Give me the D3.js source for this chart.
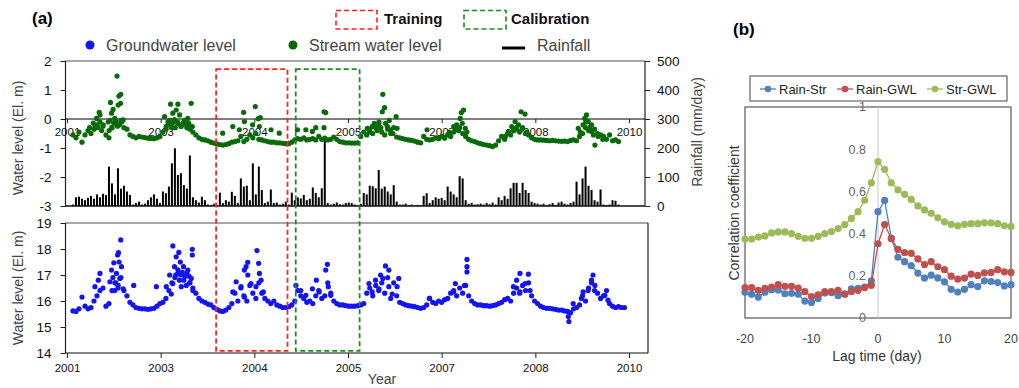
<!DOCTYPE html>
<html>
<head>
<meta charset="utf-8">
<script src="https://cdn.jsdelivr.net/npm/d3@7"></script>
<style>
  body { margin: 0; background: #fff; }
  svg { display: block; font-family: "Liberation Sans", Arial, sans-serif; }
</style>
</head>
<body>
<svg id="chart" width="1019" height="388"></svg>
<script>
// ---------- panel (a): daily record, sampled every 16 days ----------
const yearLabels = ["2001", "2003", "2004", "2005", "2007", "2008", "2010"];
const tickDays = [0, 500, 1000, 1500, 2000, 2500, 3000];
const sampleStart = 32;   // day of first sample
const sampleStep = 16;    // days between samples

// stream water level (El. m)
const streamLevel = [
  -0.55,-0.65,-0.45,-0.8,-0.55,-0.4,-0.5,-0.35,-0.2,-0.1,-0.25,-0.55,-0.65,-0.3,-0.15,-0.2,-0.05,-0.3,-0.35,-0.55,
  -0.6,-0.65,-0.6,-0.62,-0.64,-0.66,-0.67,-0.68,-0.65,-0.6,-0.45,-0.35,-0.2,-0.3,-0.1,-0.15,-0.25,-0.1,-0.3,-0.35,
  -0.45,-0.55,-0.65,-0.7,-0.72,-0.75,-0.8,-0.83,-0.86,-0.88,-0.9,-0.88,-0.85,-0.8,-0.78,-0.75,-0.6,-0.78,-0.7,-0.55,
  -0.65,-0.5,-0.7,-0.72,-0.75,-0.78,-0.8,-0.8,-0.82,-0.82,-0.84,-0.85,-0.85,-0.8,-0.72,-0.68,-0.7,-0.65,-0.72,-0.7,
  -0.68,-0.72,-0.6,-0.7,-0.66,-0.72,-0.7,-0.62,-0.7,-0.78,-0.8,-0.82,-0.82,-0.83,-0.83,-0.82,-0.6,-0.45,-0.55,-0.35,
  -0.5,-0.3,-0.2,-0.45,-0.55,-0.35,-0.5,-0.3,-0.62,-0.65,-0.68,-0.7,-0.72,-0.74,-0.76,-0.8,-0.82,-0.6,-0.7,-0.72,
  -0.7,-0.65,-0.68,-0.6,-0.66,-0.55,-0.6,-0.45,-0.35,-0.3,-0.5,-0.6,-0.7,-0.75,-0.78,-0.82,-0.85,-0.88,-0.9,-0.92,
  -0.95,-0.9,-0.75,-0.6,-0.7,-0.5,-0.55,-0.4,-0.35,-0.45,-0.3,-0.5,-0.55,-0.65,-0.7,-0.72,-0.72,-0.73,-0.74,-0.75,
  -0.74,-0.75,-0.76,-0.77,-0.76,-0.78,-0.74,-0.72,-0.75,-0.6,-0.5,-0.3,-0.4,-0.2,-0.35,-0.5,-0.55,-0.6,-0.7,-0.55,
  -0.75,-0.72,-0.78
];

// groundwater level (El. m)
const groundwaterLevel = [
  15.62,15.6,15.7,16.15,15.8,15.7,15.75,16.0,16.2,16.4,16.5,15.8,15.9,16.4,16.7,16.5,16.9,16.4,16.2,15.95,
  15.85,15.75,15.72,15.7,15.7,15.68,15.7,15.72,15.8,15.9,15.95,16.1,16.4,16.7,16.9,17.2,17.0,16.8,17.1,16.7,
  16.5,16.3,16.1,16.0,15.95,15.88,15.85,15.75,15.68,15.62,15.6,15.65,15.75,15.9,16.3,16.0,16.5,16.2,16.0,16.6,
  16.3,16.1,16.7,16.3,16.1,16.0,15.9,16.0,15.85,15.8,15.75,15.75,15.78,15.85,16.0,16.4,16.2,16.1,15.95,16.0,
  15.9,16.2,16.4,16.1,16.2,16.7,16.3,16.0,15.9,15.85,15.85,15.82,15.8,15.8,15.8,15.82,15.85,15.9,16.3,16.5,
  16.2,16.6,16.4,16.7,16.3,16.9,16.1,16.7,16.2,15.95,15.9,15.85,15.82,15.8,15.78,15.75,15.72,15.75,15.85,16.1,
  15.95,15.9,16.0,15.95,16.05,16.1,16.3,16.4,16.2,16.5,16.3,16.6,16.2,16.0,15.9,15.85,15.85,15.82,15.82,15.8,
  15.82,15.85,15.9,15.95,16.05,16.1,16.0,16.3,16.5,16.3,16.6,16.4,16.7,16.2,16.0,15.9,15.8,15.75,15.72,15.72,
  15.7,15.68,15.65,15.65,15.62,15.6,15.55,15.7,15.75,15.85,16.2,16.0,16.5,16.7,16.4,16.3,16.1,16.2,16.4,15.9,
  15.8,15.75,15.78,15.75,15.75
];

// daily rainfall (mm/day)
const rainfall = [
  5,30,32,25,20,28,35,25,40,30,42,38,136,78,40,130,60,70,50,38,
  5,10,15,5,8,20,30,40,25,10,50,44,67,147,199,107,113,72,60,174,
  30,20,12,32,20,5,3,8,2,46,10,20,15,49,35,10,95,67,70,20,
  147,40,136,55,10,15,57,10,12,5,8,15,5,46,20,30,26,38,20,25,
  64,45,30,61,239,10,5,8,12,6,5,10,12,10,5,3,8,45,40,70,
  68,61,124,60,67,50,40,72,15,5,5,8,3,5,2,4,3,35,44,10,
  20,30,25,28,20,67,50,40,30,103,95,20,8,10,5,6,8,5,10,6,
  12,5,30,20,35,25,61,80,80,45,80,55,45,15,10,8,5,8,3,6,
  10,4,12,15,8,5,10,15,84,40,95,136,70,55,20,15,57,5,3,5,
  20,18,5,0,0
];

// individual high readings during rises: [day, level]
const streamPeaks = [
  [267,1.48],[287,0.85],[277,0.79],[232,0.57],[286,0.54],[273,0.48],[246,0.33],[238,0.2],[172,0.23],[176,0.14],
  [158,0.02],[255,0.02],[300,-0.03],[220,-0.1],[140,-0.14],[193,-0.2],[230,-0.05],[250,-0.15],[262,-0.1],[280,-0.2],
  [292,-0.1],[240,-0.3],[270,-0.25],[225,-0.4],[120,-0.3],[150,-0.25],[165,-0.3],[185,-0.4],
  [553,0.51],[592,0.51],[663,0.54],[583,0.31],[565,0.2],[521,0.08],[601,0.14],[645,0.02],[574,-0.02],[539,-0.1],
  [619,-0.14],[669,-0.26],[637,-0.2],[530,-0.25],[548,-0.05],[560,-0.15],[578,-0.3],[590,-0.1],[610,-0.25],[628,-0.05],
  [655,-0.3],[650,-0.15],
  [1005,0.43],[943,0.23],[1021,0.01],[1032,0.05],[947,-0.09],[885,-0.26],[991,-0.2],[920,-0.37],[1089,-0.37],[1133,-0.49],
  [831,-0.49],[1027,-0.26],
  [1372,0.25],[1381,0.22],[1372,-0.3],[1328,-0.3],[1275,-0.37],[1230,-0.37],[1310,-0.43],
  [1686,0.85],[1695,0.39],[1683,0.25],[1757,0.08],[1665,-0.11],[1700,-0.15],[1629,-0.26],[1603,-0.32],[1727,-0.37],[1762,-0.32],
  [1922,-0.37],[1615,-0.45],[1640,-0.15],[1655,-0.4],[1675,-0.3],[1710,-0.25],[1740,-0.5],[1720,-0.05],
  [2117,0.31],[2105,0.22],[2099,0.02],[2110,-0.15],[2064,-0.26],[2126,-0.32],[2040,-0.45],[2080,-0.2],[2090,-0.4],[2135,-0.45],
  [2424,0.25],[2445,0.17],[2392,-0.09],[2374,-0.26],[2410,-0.2],[2356,-0.43],[2385,-0.4],[2400,-0.3],[2430,-0.35],[2455,-0.45],
  [2340,-0.6],
  [2773,0.14],[2764,0.02],[2782,-0.09],[2755,-0.2],[2729,-0.32],[2800,-0.43],[2818,-0.9],[2740,-0.45],[2790,-0.3],[2810,-0.55],
  [2770,-0.1],[2835,-0.6],[2860,-0.7]
];

const groundwaterPeaks = [
  [287,18.35],[275,17.86],[270,17.77],[250,17.47],[278,17.5],[291,17.32],[238,17.19],[264,17.06],[282,16.87],[229,16.74],
  [273,16.6],[255,16.4],[300,16.47],[176,17.06],[167,16.8],[149,16.55],[356,16.6],[477,16.55],[245,16.9],[260,16.7],
  [565,18.12],[597,17.87],[669,17.99],[669,17.77],[583,17.7],[605,17.5],[622,17.32],[574,17.32],[645,17.19],[548,17.0],
  [592,17.06],[663,16.87],[565,16.67],[610,16.55],[637,16.6],[672,16.4],[557,16.27],[530,16.55],[651,16.96],[615,17.1],
  [630,16.95],[600,16.8],[580,17.0],[655,16.7],
  [1014,17.94],[965,17.49],[956,17.32],[1023,17.45],[947,17.19],[1027,17.06],[965,17.0],[903,16.74],[1036,16.8],[982,16.67],
  [1009,16.55],[929,16.55],[885,16.35],[1048,16.35],[947,16.15],
  [1390,17.41],[1381,17.19],[1331,16.8],[1222,16.6],[1395,16.55],[1310,16.47],[1248,16.4],[1346,16.35],[1408,16.22],[1275,16.22],
  [1700,17.35],[1718,17.19],[1674,17.0],[1771,16.87],[1686,16.87],[1647,16.8],[1612,16.67],[1718,16.55],[1762,16.55],[1665,16.47],
  [1629,16.35],[1736,16.27],
  [2135,17.6],[2135,17.32],[2135,17.12],[2073,16.67],[2122,16.6],[2064,16.35],[1934,16.1],
  [2418,17.06],[2463,17.03],[2400,16.8],[2445,16.67],[2383,16.55],[2472,16.4],[2418,16.35],
  [2676,15.4],[2679,15.21],[2808,17.0],[2800,16.8],[2818,16.6],[2782,16.4],[2755,16.35],[2746,16.1],[2871,16.22],[2888,16.03],
  [2702,15.9]
];

const trainingPeriod = [796, 1177];
const calibrationPeriod = [1221, 1562];

// ---------- panel (b): cross-correlation vs lag ----------
const lagDays = [-20,-19,-18,-17,-16,-15,-14,-13,-12,-11,-10,-9,-8,-7,-6,-5,-4,-3,-2,-1,0,
                 1,2,3,4,5,6,7,8,9,10,11,12,13,14,15,16,17,18,19,20];
const rainStr = [0.122,0.112,0.099,0.122,0.134,0.133,0.115,0.117,0.112,0.080,0.074,0.093,0.118,0.120,0.106,0.114,0.138,0.141,0.147,0.176,0.504,
                 0.557,0.379,0.288,0.267,0.248,0.213,0.189,0.203,0.190,0.171,0.136,0.123,0.136,0.158,0.149,0.176,0.173,0.168,0.152,0.158];
const rainGwl = [0.144,0.144,0.131,0.141,0.147,0.158,0.150,0.150,0.142,0.125,0.102,0.110,0.125,0.125,0.131,0.112,0.126,0.131,0.144,0.155,0.352,
                 0.443,0.376,0.325,0.310,0.306,0.280,0.253,0.267,0.243,0.229,0.198,0.184,0.189,0.208,0.202,0.214,0.216,0.229,0.219,0.216];
const strGwl  = [0.374,0.374,0.384,0.389,0.403,0.408,0.408,0.400,0.387,0.378,0.378,0.387,0.400,0.410,0.424,0.443,0.472,0.504,0.558,0.641,0.741,
                 0.705,0.641,0.607,0.586,0.562,0.531,0.512,0.496,0.475,0.456,0.444,0.437,0.444,0.447,0.447,0.451,0.451,0.447,0.437,0.434];
const corrSeries = [
  { name: "Rain-Str", color: "#4F81BD", values: rainStr },
  { name: "Rain-GWL", color: "#C0504D", values: rainGwl },
  { name: "Str-GWL",  color: "#9BBB59", values: strGwl }
];
const corrTicks = [0, 0.2, 0.4, 0.6, 0.8, 1];
const lagTicks = [-20, -10, 0, 10, 20];

// ======================================================================
const svg = d3.select("#chart");
const GREEN = "#0a6a0a", BLUE = "#1414f0";
const DOT = 2.6;
const sampleDay = i => sampleStart + i * sampleStep;

const x = d3.scaleLinear().domain([0, 3000]).range([67, 629]);
const yTop = d3.scaleLinear().domain([-3, 2]).range([206, 61]);
const yRain = d3.scaleLinear().domain([0, 500]).range([206, 61]);
const yBot = d3.scaleLinear().domain([14, 19]).range([353, 223]);

const plain = d => String(d);

function styleAxis(g, size) {
  g.select(".domain").remove();
  g.selectAll("text").attr("font-size", size).attr("fill", "#111");
  g.selectAll("line").attr("stroke", "#222");
}

// --- headers ---
svg.append("text").attr("x", 32).attr("y", 24).attr("font-size", 17).attr("font-weight", "bold").text("(a)");
svg.append("text").attr("x", 733).attr("y", 35).attr("font-size", 17).attr("font-weight", "bold").text("(b)");

// period legend
const periodLegend = [
  { label: "Training", color: "#ff2020", x: 336, w: 41, tx: 384 },
  { label: "Calibration", color: "#1f8a1f", x: 464, w: 42, tx: 511 }
];
periodLegend.forEach(p => {
  svg.append("rect").attr("x", p.x).attr("y", 10.5).attr("width", p.w).attr("height", 18.5)
    .attr("fill", "none").attr("stroke", p.color).attr("stroke-width", 1.6).attr("stroke-dasharray", "5,3");
  svg.append("text").attr("x", p.tx).attr("y", 23.5).attr("font-size", 15).attr("font-weight", "bold")
    .attr("fill", "#111").text(p.label);
});

// series legend
svg.append("circle").attr("cx", 90).attr("cy", 45).attr("r", 4.5).attr("fill", BLUE);
svg.append("text").attr("x", 106).attr("y", 51).attr("font-size", 16).attr("fill", "#444").text("Groundwater level");
svg.append("circle").attr("cx", 293).attr("cy", 45).attr("r", 4.5).attr("fill", GREEN);
svg.append("text").attr("x", 309).attr("y", 51).attr("font-size", 16).attr("fill", "#444").text("Stream water level");
svg.append("line").attr("x1", 502).attr("x2", 525).attr("y1", 48).attr("y2", 48).attr("stroke", "#000").attr("stroke-width", 3);
svg.append("text").attr("x", 537).attr("y", 51).attr("font-size", 16).attr("fill", "#444").text("Rainfall");

// --- top panel: stream level + rainfall ---
const topPanel = svg.append("g");

topPanel.append("g").selectAll("rect").data(rainfall).join("rect")
  .attr("x", (d, i) => x(sampleDay(i)) - 1)
  .attr("width", 2)
  .attr("y", d => yRain(d))
  .attr("height", d => yRain(0) - yRain(d))
  .attr("fill", "#000");

// frame
topPanel.append("line").attr("x1", 65).attr("x2", 645).attr("y1", 61).attr("y2", 61).attr("stroke", "#888").attr("stroke-width", 1.5);
topPanel.append("line").attr("x1", 65).attr("x2", 645).attr("y1", 206).attr("y2", 206).attr("stroke", "#111").attr("stroke-width", 1.5);
topPanel.append("line").attr("x1", 65.5).attr("x2", 65.5).attr("y1", 61).attr("y2", 206).attr("stroke", "#222").attr("stroke-width", 1.2);
topPanel.append("line").attr("x1", 645).attr("x2", 645).attr("y1", 61).attr("y2", 206).attr("stroke", "#222").attr("stroke-width", 1.2);
topPanel.append("line").attr("x1", 65).attr("x2", 645).attr("y1", yTop(0)).attr("y2", yTop(0)).attr("stroke", "#000").attr("stroke-width", 1.2);

topPanel.append("g").attr("transform", "translate(65.5,0)")
  .call(d3.axisLeft(yTop).tickValues([-3, -2, -1, 0, 1, 2]).tickFormat(plain).tickSize(5).tickPadding(9))
  .call(g => styleAxis(g, 13.5));
topPanel.append("g").attr("transform", "translate(645,0)")
  .call(d3.axisRight(yRain).tickValues([0, 100, 200, 300, 400, 500]).tickFormat(plain).tickSize(5).tickPadding(7))
  .call(g => styleAxis(g, 13.5));
topPanel.append("g").attr("transform", `translate(0,${yTop(0)})`)
  .call(d3.axisBottom(x).tickValues(tickDays).tickFormat((d, i) => yearLabels[i]).tickSize(4).tickPadding(5))
  .call(g => styleAxis(g, 11.5));

topPanel.append("g").selectAll("circle").data(streamLevel).join("circle")
  .attr("cx", (d, i) => x(sampleDay(i))).attr("cy", d => yTop(d)).attr("r", DOT).attr("fill", GREEN);
topPanel.append("g").selectAll("circle").data(streamPeaks).join("circle")
  .attr("cx", d => x(d[0])).attr("cy", d => yTop(d[1])).attr("r", DOT).attr("fill", GREEN);

svg.append("text").attr("transform", "translate(18,138) rotate(-90)").attr("text-anchor", "middle")
  .attr("dominant-baseline", "central").attr("font-size", 14).attr("fill", "#444").text("Water level (El. m)");
svg.append("text").attr("transform", "translate(697,132) rotate(-90)").attr("text-anchor", "middle")
  .attr("dominant-baseline", "central").attr("font-size", 14).attr("fill", "#444").text("Rainfall (mm/day)");

// --- bottom panel: groundwater level ---
const botPanel = svg.append("g");
botPanel.append("line").attr("x1", 65).attr("x2", 648).attr("y1", 223).attr("y2", 223).attr("stroke", "#888").attr("stroke-width", 1.5);
botPanel.append("line").attr("x1", 65).attr("x2", 648).attr("y1", 353).attr("y2", 353).attr("stroke", "#111").attr("stroke-width", 1.2);
botPanel.append("line").attr("x1", 65.5).attr("x2", 65.5).attr("y1", 223).attr("y2", 353).attr("stroke", "#222").attr("stroke-width", 1.2);
botPanel.append("line").attr("x1", 648).attr("x2", 648).attr("y1", 223).attr("y2", 353).attr("stroke", "#222").attr("stroke-width", 1.2);

botPanel.append("g").attr("transform", "translate(65.5,0)")
  .call(d3.axisLeft(yBot).tickValues([14, 15, 16, 17, 18, 19]).tickFormat(plain).tickSize(5).tickPadding(9))
  .call(g => styleAxis(g, 13.5));
botPanel.append("g").attr("transform", "translate(0,353)")
  .call(d3.axisBottom(x).tickValues(tickDays).tickFormat((d, i) => yearLabels[i]).tickSize(5).tickPadding(6))
  .call(g => styleAxis(g, 11.5));

botPanel.append("g").selectAll("circle").data(groundwaterLevel).join("circle")
  .attr("cx", (d, i) => x(sampleDay(i))).attr("cy", d => yBot(d)).attr("r", DOT).attr("fill", BLUE);
botPanel.append("g").selectAll("circle").data(groundwaterPeaks).join("circle")
  .attr("cx", d => x(d[0])).attr("cy", d => yBot(d[1])).attr("r", DOT).attr("fill", BLUE);

svg.append("text").attr("transform", "translate(18,288) rotate(-90)").attr("text-anchor", "middle")
  .attr("dominant-baseline", "central").attr("font-size", 14).attr("fill", "#444").text("Water level (El. m)");
svg.append("text").attr("x", 382).attr("y", 384).attr("text-anchor", "middle").attr("font-size", 14)
  .attr("fill", "#444").text("Year");

// --- training / calibration windows spanning both panels ---
[[trainingPeriod, "#ff2020"], [calibrationPeriod, "#1f8a1f"]].forEach(([p, c]) => {
  svg.append("rect").attr("x", x(p[0])).attr("y", yTop(1.72))
    .attr("width", x(p[1]) - x(p[0])).attr("height", yBot(14.08) - yTop(1.72))
    .attr("fill", "none").attr("stroke", c).attr("stroke-width", 1.8).attr("stroke-dasharray", "5,3");
});

// --- panel (b) ---
const bx = d3.scaleLinear().domain([-20, 20]).range([745, 1011]);
const by = d3.scaleLinear().domain([0, 1]).range([318, 107]);
const pb = svg.append("g");

pb.append("rect").attr("x", 745).attr("y", 107).attr("width", 266).attr("height", 211)
  .attr("fill", "none").attr("stroke", "#595959").attr("stroke-width", 1.2);
pb.append("line").attr("x1", bx(0)).attr("x2", bx(0)).attr("y1", 107).attr("y2", 318)
  .attr("stroke", "#c8c8c8").attr("stroke-width", 1);

pb.append("g").selectAll("text").data(corrTicks).join("text")
  .attr("x", bx(0) - 12).attr("y", d => by(d)).attr("dy", "0.35em").attr("text-anchor", "end")
  .attr("font-size", 12.5).attr("fill", "#666").text(d => String(d));
pb.append("g").selectAll("text").data(lagTicks).join("text")
  .attr("x", d => bx(d)).attr("y", 343).attr("text-anchor", "middle")
  .attr("font-size", 12.5).attr("fill", "#444").text(d => String(d));

pb.append("text").attr("x", 877).attr("y", 361).attr("text-anchor", "middle").attr("font-size", 14)
  .attr("fill", "#333").text("Lag time (day)");
pb.append("text").attr("transform", "translate(734,213) rotate(-90)").attr("text-anchor", "middle")
  .attr("dominant-baseline", "central").attr("font-size", 14).attr("fill", "#333").text("Correlation coefficient");

const line = d3.line().x((d, i) => bx(lagDays[i])).y(d => by(d));
corrSeries.forEach(s => {
  pb.append("path").attr("d", line(s.values)).attr("fill", "none").attr("stroke", s.color).attr("stroke-width", 1.3);
  pb.append("g").selectAll("circle").data(s.values).join("circle")
    .attr("cx", (d, i) => bx(lagDays[i])).attr("cy", d => by(d)).attr("r", 3.6).attr("fill", s.color);
});

// legend box
const lg = pb.append("g");
lg.append("rect").attr("x", 750).attr("y", 76).attr("width", 257).attr("height", 25)
  .attr("fill", "#fff").attr("stroke", "#444").attr("stroke-width", 1);
const legendX = [768, 845, 935];
corrSeries.forEach((s, k) => {
  const cx = legendX[k];
  lg.append("line").attr("x1", cx - 8).attr("x2", cx + 8).attr("y1", 89).attr("y2", 89).attr("stroke", s.color).attr("stroke-width", 1.3);
  lg.append("circle").attr("cx", cx).attr("cy", 89).attr("r", 3.3).attr("fill", s.color);
  lg.append("text").attr("x", cx + 11).attr("y", 93.5).attr("font-size", 13).attr("fill", "#222").text(s.name);
});
</script>
</body>
</html>
